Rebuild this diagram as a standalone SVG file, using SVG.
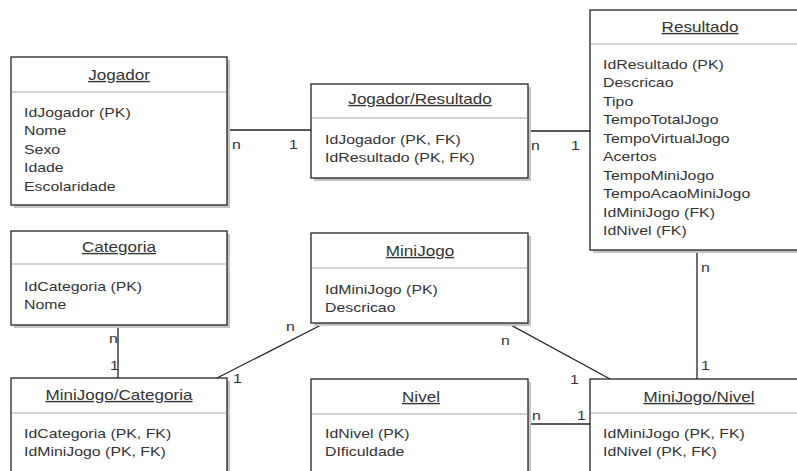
<svg xmlns="http://www.w3.org/2000/svg" width="797" height="471" viewBox="0 0 797 471">
<style>
  .box { fill: #ffffff; stroke: #222222; stroke-width: 1.3; }
  .shadow { fill: #c4c4c4; stroke: none; }
  .sep { stroke: #d2d2d2; stroke-width: 2; }
  .t { font-family: "Liberation Sans", Arial, sans-serif; font-size: 14px; fill: #333333; text-anchor: middle; text-decoration: underline; }
  .b { font-family: "Liberation Sans", Arial, sans-serif; font-size: 13px; fill: #333333; }
  .lbl { font-family: "Liberation Sans", Arial, sans-serif; font-size: 13px; fill: #333333; }
  .edge { stroke: #222222; stroke-width: 1.3; fill: none; }
</style>
<rect width="797" height="471" fill="#ffffff"/>

<g id="connectors">
  <line class="edge" x1="227" y1="130" x2="311" y2="130"/>
  <line class="edge" x1="528" y1="131" x2="590" y2="131"/>
  <line class="edge" x1="118" y1="325" x2="118" y2="378"/>
  <line class="edge" x1="325" y1="323" x2="217" y2="378"/>
  <line class="edge" x1="507" y1="323" x2="610" y2="379"/>
  <line class="edge" x1="528" y1="424" x2="590" y2="424"/>
  <line class="edge" x1="697" y1="250" x2="697" y2="379"/>
  <text class="lbl" transform="translate(232,149) scale(1.22,1)">n</text>
  <text class="lbl" transform="translate(289,149) scale(1.22,1)">1</text>
  <text class="lbl" transform="translate(531,150) scale(1.22,1)">n</text>
  <text class="lbl" transform="translate(571,150) scale(1.22,1)">1</text>
  <text class="lbl" transform="translate(109,343) scale(1.22,1)">n</text>
  <text class="lbl" transform="translate(110,370) scale(1.22,1)">1</text>
  <text class="lbl" transform="translate(286,331) scale(1.22,1)">n</text>
  <text class="lbl" transform="translate(233,383) scale(1.22,1)">1</text>
  <text class="lbl" transform="translate(501,345) scale(1.22,1)">n</text>
  <text class="lbl" transform="translate(570,384) scale(1.22,1)">1</text>
  <text class="lbl" transform="translate(532,420) scale(1.22,1)">n</text>
  <text class="lbl" transform="translate(577,420) scale(1.22,1)">1</text>
  <text class="lbl" transform="translate(701,272) scale(1.22,1)">n</text>
  <text class="lbl" transform="translate(701,370) scale(1.22,1)">1</text>
</g>

<g id="jogador">
  <rect class="shadow" x="14" y="60" width="216" height="148"/>
  <rect class="box" x="11" y="57" width="216" height="148"/>
  <line class="sep" x1="12" y1="92" x2="226" y2="92"/>
  <text class="t" transform="translate(119,80) scale(1.22,1)">Jogador</text>
  <text class="b" transform="translate(24,117) scale(1.22,1)"><tspan x="0" y="0">IdJogador (PK)</tspan><tspan x="0" y="18.5">Nome</tspan><tspan x="0" y="37">Sexo</tspan><tspan x="0" y="55.5">Idade</tspan><tspan x="0" y="74">Escolaridade</tspan></text>
</g>

<g id="jogador-resultado">
  <rect class="shadow" x="314" y="87" width="217" height="94"/>
  <rect class="box" x="311" y="84" width="217" height="94"/>
  <line class="sep" x1="312" y1="118" x2="527" y2="118"/>
  <text class="t" transform="translate(420,104) scale(1.22,1)">Jogador/Resultado</text>
  <text class="b" transform="translate(325,144) scale(1.22,1)"><tspan x="0" y="0">IdJogador (PK, FK)</tspan><tspan x="0" y="18.5">IdResultado (PK, FK)</tspan></text>
</g>

<g id="resultado">
  <rect class="shadow" x="593" y="13" width="220" height="240"/>
  <rect class="box" x="590" y="10" width="220" height="240"/>
  <line class="sep" x1="591" y1="44" x2="809" y2="44"/>
  <text class="t" transform="translate(700,32) scale(1.22,1)">Resultado</text>
  <text class="b" transform="translate(603,69) scale(1.22,1)"><tspan x="0" y="0">IdResultado (PK)</tspan><tspan x="0" y="18.5">Descricao</tspan><tspan x="0" y="37">Tipo</tspan><tspan x="0" y="55.5">TempoTotalJogo</tspan><tspan x="0" y="74">TempoVirtualJogo</tspan><tspan x="0" y="92.5">Acertos</tspan><tspan x="0" y="111">TempoMiniJogo</tspan><tspan x="0" y="129.5">TempoAcaoMiniJogo</tspan><tspan x="0" y="148">IdMiniJogo (FK)</tspan><tspan x="0" y="166.5">IdNivel (FK)</tspan></text>
</g>

<g id="categoria">
  <rect class="shadow" x="14" y="234" width="216" height="94"/>
  <rect class="box" x="11" y="231" width="216" height="94"/>
  <line class="sep" x1="12" y1="264" x2="226" y2="264"/>
  <text class="t" transform="translate(119,252) scale(1.22,1)">Categoria</text>
  <text class="b" transform="translate(24,291) scale(1.22,1)"><tspan x="0" y="0">IdCategoria (PK)</tspan><tspan x="0" y="18.5">Nome</tspan></text>
</g>

<g id="minijogo">
  <rect class="shadow" x="314" y="236" width="217" height="90"/>
  <rect class="box" x="311" y="233" width="217" height="90"/>
  <line class="sep" x1="312" y1="268" x2="527" y2="268"/>
  <text class="t" transform="translate(420,256) scale(1.22,1)">MiniJogo</text>
  <text class="b" transform="translate(325,294) scale(1.22,1)"><tspan x="0" y="0">IdMiniJogo (PK)</tspan><tspan x="0" y="18.5">Descricao</tspan></text>
</g>

<g id="minijogo-categoria">
  <rect class="shadow" x="14" y="381" width="216" height="100"/>
  <rect class="box" x="11" y="378" width="216" height="100"/>
  <line class="sep" x1="12" y1="413" x2="226" y2="413"/>
  <text class="t" transform="translate(119,400) scale(1.22,1)">MiniJogo/Categoria</text>
  <text class="b" transform="translate(24,438) scale(1.22,1)"><tspan x="0" y="0">IdCategoria (PK, FK)</tspan><tspan x="0" y="18.5">IdMiniJogo (PK, FK)</tspan></text>
</g>

<g id="nivel">
  <rect class="shadow" x="314" y="382" width="217" height="100"/>
  <rect class="box" x="311" y="379" width="217" height="100"/>
  <line class="sep" x1="312" y1="414" x2="527" y2="414"/>
  <text class="t" transform="translate(421,402) scale(1.22,1)">Nivel</text>
  <text class="b" transform="translate(325,438) scale(1.22,1)"><tspan x="0" y="0">IdNivel (PK)</tspan><tspan x="0" y="18.5">DIficuldade</tspan></text>
</g>

<g id="minijogo-nivel">
  <rect class="shadow" x="593" y="382" width="220" height="100"/>
  <rect class="box" x="590" y="379" width="220" height="100"/>
  <line class="sep" x1="591" y1="413" x2="809" y2="413"/>
  <text class="t" transform="translate(699,402) scale(1.22,1)">MiniJogo/Nivel</text>
  <text class="b" transform="translate(603,438) scale(1.22,1)"><tspan x="0" y="0">IdMiniJogo (PK, FK)</tspan><tspan x="0" y="18.5">IdNivel (PK, FK)</tspan></text>
</g>
</svg>
